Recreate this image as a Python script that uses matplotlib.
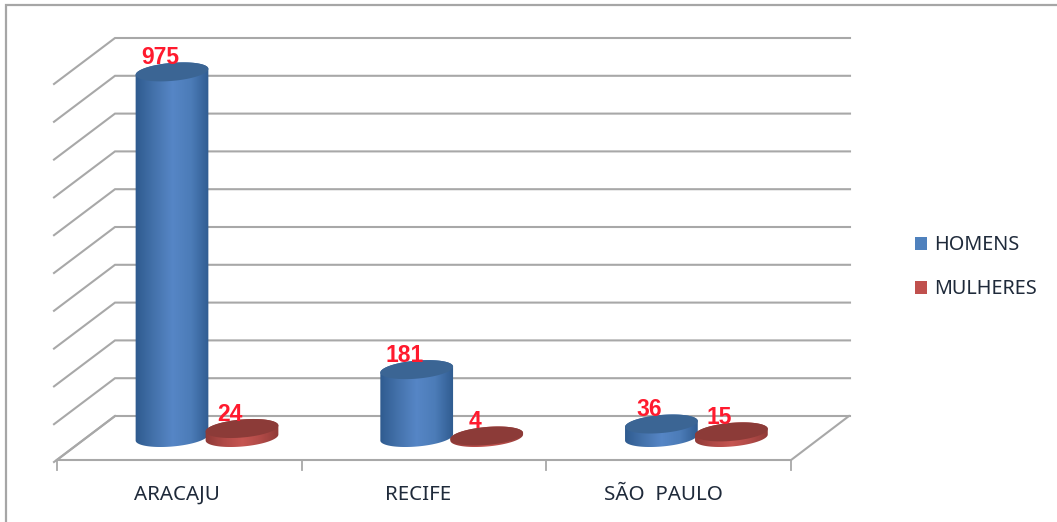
import numpy as np
import matplotlib
matplotlib.use("Agg")
import matplotlib.pyplot as plt
from matplotlib.colors import LinearSegmentedColormap
from matplotlib.patches import PathPatch, Patch
from matplotlib.path import Path

categories = ["ARACAJU", "RECIFE", "SÃO  PAULO"]
homens = [975, 181, 36]
mulheres = [24, 4, 15]
series_names = ["HOMENS", "MULHERES"]
grid_values = list(range(0, 1001, 100))

W, H = 1057, 522
PX_CAT = 244.7          # pixels per category
PX_VAL = 0.375          # pixels per value unit
X0 = 179.3              # pixel of first category centre (front of floor)
Y0 = 437.5              # pixel of value 0 at the bars' base
GRID_X0, GRID_X1 = 115, 850
DEPTH_UP = 21.5         # wall zero line above bar base
FLOOR_Y = 460
GRID_C = "#A8A8A8"
BORDER_C = "#A6A6A6"

def xd(px):
    return px / PX_CAT
def yd(px):
    return px / PX_VAL

fig = plt.figure(figsize=(W / 100, H / 100), dpi=100, facecolor="white")
ax = fig.add_axes([0, 0, 1, 1])
ax.set_axis_off()
XLIM = ((0 - X0) / PX_CAT, (W - X0) / PX_CAT)
YLIM = ((Y0 - H) / PX_VAL, Y0 / PX_VAL)

def cx(px):
    return XLIM[0] + xd(px)
def cy(px):
    return (Y0 - px) / PX_VAL

# outer frame
ax.plot([cx(6), cx(6), XLIM[1]], [YLIM[0], cy(5), cy(5)],
        color=BORDER_C, lw=1.6, solid_joinstyle="miter", zorder=1)

# wall gridlines with left-side slants
for v in grid_values:
    y_back = cy(Y0 - DEPTH_UP) + v * (37.8 / 100) / PX_VAL
    y_front = y_back - yd(46)
    ax.plot([cx(54), cx(GRID_X0), cx(GRID_X1)], [y_front, y_back, y_back],
            color=GRID_C, lw=1.5, solid_joinstyle="miter", zorder=2)

# floor
n = len(categories)
floor_x = [cx(57) + i for i in range(n + 1)]
ax.plot([floor_x[0], floor_x[-1], cx(GRID_X1 - 1)],
        [cy(FLOOR_Y), cy(FLOOR_Y), cy(416)], color=GRID_C, lw=1.5, zorder=2)
ax.plot([cx(57), cx(GRID_X0)], [cy(FLOOR_Y), cy(416)], color=GRID_C, lw=1.5, zorder=2)
for fx in floor_x:
    ax.plot([fx, fx], [cy(FLOOR_Y), cy(FLOOR_Y + 10)], color=GRID_C, lw=1.3, zorder=2)

# cylinders
A, B = 36.5, 9.0
TILT = np.radians(5)

def ring(center_px, value, t):
    dx = A * np.cos(t) * np.cos(TILT) - B * np.sin(t) * np.sin(TILT)
    dy = A * np.cos(t) * np.sin(TILT) + B * np.sin(t) * np.cos(TILT)
    return center_px + dx / PX_CAT, value + dy / PX_VAL

def cylinder(center, value, side_cols, top_col, z):
    tb = np.linspace(np.pi, 2 * np.pi, 50)
    tt = np.linspace(0, np.pi, 50)
    bx, by = ring(center, 0, tb)
    ux, uy = ring(center, value, tt)
    verts = np.column_stack([np.r_[bx, ux, bx[0]], np.r_[by, uy, by[0]]])
    clip = PathPatch(Path(verts), transform=ax.transData, fc="none", ec="none")
    ax.add_patch(clip)
    cmap = LinearSegmentedColormap.from_list("c", side_cols)
    grad = np.linspace(0, 1, 128).reshape(1, -1)
    half = (A + 1) / PX_CAT
    im = ax.imshow(grad, cmap=cmap, aspect="auto", interpolation="bilinear",
                   extent=[center - half, center + half, by.min() - 1, uy.max() + 1],
                   zorder=z)
    im.set_clip_path(clip)
    tf = np.linspace(0, 2 * np.pi, 100)
    fx, fy = ring(center, value, tf)
    ax.fill(fx, fy, color=top_col, lw=0, zorder=z + 0.1)

BLUE_SIDE = ["#2E5A8E", "#4472AB", "#5686C6", "#4C7CB8", "#2F5B8F"]
RED_SIDE = ["#8E3936", "#B04A47", "#C65652", "#B04A47", "#8E3936"]
BLUE_TOP = "#3B6594"
RED_TOP = "#8C3B38"
OFF_H = (172 - X0) / PX_CAT
OFF_M = (242 - X0) / PX_CAT
LABEL_DX = -12 / PX_CAT
LABEL_DY = 14 / PX_VAL
RED_TXT = "#FF1A2E"
FONT = "Noto Sans"
BOLD = "Liberation Sans"

for i, (h, m) in enumerate(zip(homens, mulheres)):
    cylinder(i + OFF_H, h, BLUE_SIDE, BLUE_TOP, 3 + i)
    cylinder(i + OFF_M, m, RED_SIDE, RED_TOP, 3.5 + i)
    ax.text(i + OFF_H + LABEL_DX, h + LABEL_DY, str(h), color=RED_TXT, fontsize=16.5,
            fontweight="bold", family=BOLD, ha="center", va="center", zorder=10)
    ax.text(i + OFF_M + LABEL_DX, m + LABEL_DY, str(m), color=RED_TXT, fontsize=16.5,
            fontweight="bold", family=BOLD, ha="center", va="center", zorder=10)

# category labels
label_nudge = [-2, -6, -5]
for i, name in enumerate(categories):
    ax.text(i + label_nudge[i] / PX_CAT, cy(495), name, color="#1F2A3A", fontsize=14.8,
            family=FONT, ha="center", va="center")

ax.set_xlim(*XLIM)
ax.set_ylim(*YLIM)

handles = [Patch(fc="#4F81BD", ec="none"), Patch(fc="#C0504D", ec="none")]
ax.legend(handles, series_names, loc="upper left",
          bbox_to_anchor=(915 / W, 1 - 235.5 / H), frameon=False,
          prop={"family": FONT, "size": 14.3}, handlelength=0.6, handleheight=0.6,
          handletextpad=0.35, labelspacing=1.2, borderpad=0, borderaxespad=0,
          labelcolor="#1F2A3A")

fig.savefig("out.png", dpi=100)
